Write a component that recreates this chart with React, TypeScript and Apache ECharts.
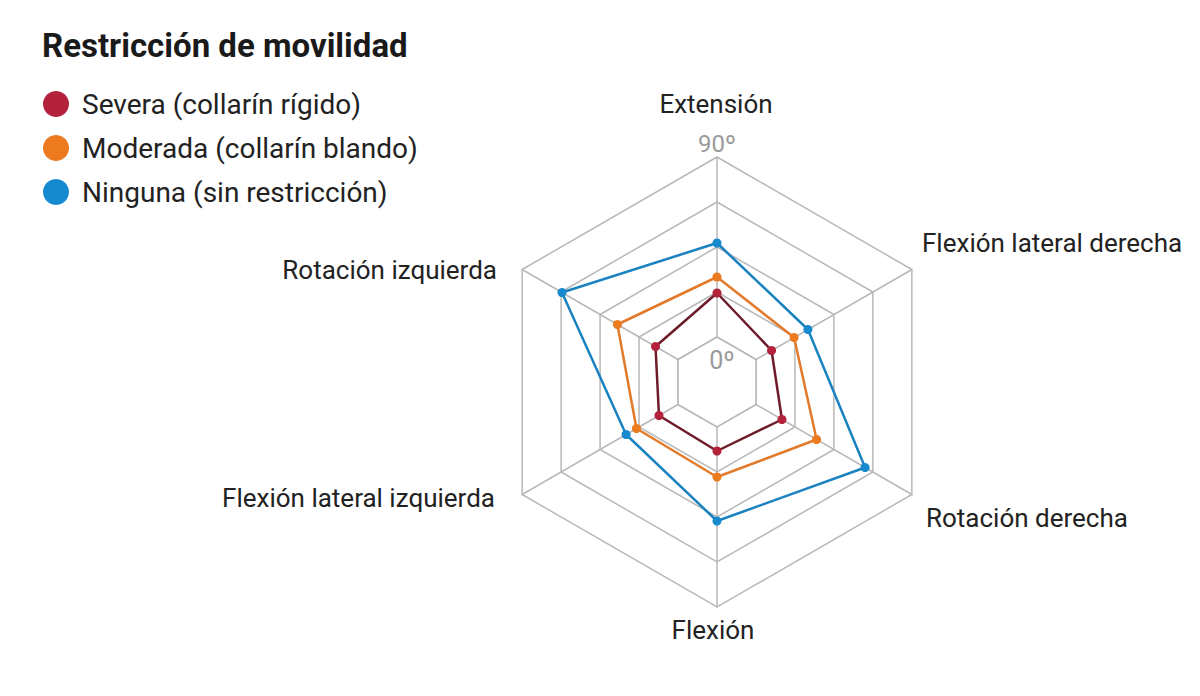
import { useEffect, useRef } from 'react'
import * as echarts from 'echarts'

// Axes in ECharts order (counter-clockwise from the top)
const axisNames = [
  'Extensión',
  'Rotación izquierda',
  'Flexión lateral izquierda',
  'Flexión',
  'Rotación derecha',
  'Flexión lateral derecha',
]

const seriesNames = [
  'Severa (collarín rígido)',
  'Moderada (collarín blando)',
  'Ninguna (sin restricción)',
]

// degrees of motion per axis
const severa = [22, 13, 11, 12, 15, 9]
const moderada = [30, 35, 24, 25, 35, 22]
const ninguna = [47, 67, 30, 47, 63, 30]

const scaleLabels = ['0º', '90º']

const DOT_COLORS = ['#b3213a', '#ec7a1f', '#1689cf']
const LINE_COLORS = ['#6e1c2a', '#e27a2a', '#1a82c0']
const GRID = '#b8b8b8'

const CX = 717
const CY = 382
const R = 225
// the innermost ring is the 0º level, the hole inside it has no spokes
const HOLE = R / 5

// label anchor for each axis name (same order as axisNames)
const NAME_POS = [
  { x: 716, y: 104, align: 'center' },
  { x: 497, y: 270, align: 'right' },
  { x: 495, y: 498, align: 'right' },
  { x: 713, y: 630, align: 'center' },
  { x: 926, y: 518, align: 'left' },
  { x: 922, y: 243, align: 'left' },
]

const FONT = 'Roboto, "Noto Sans", sans-serif'

export default function App() {
  const chartRef = useRef<HTMLDivElement | null>(null)

  useEffect(() => {
    document.body.style.margin = '0'
    if (!chartRef.current) return
    const chart = echarts.init(chartRef.current, null, { renderer: 'svg' })

    const values = [severa, moderada, ninguna]
    const holePoints = axisNames.map((_, i) => {
      const a = Math.PI / 2 + (i * 2 * Math.PI) / axisNames.length
      return [CX + HOLE * Math.cos(a), CY - HOLE * Math.sin(a)]
    })

    const option: echarts.EChartsOption = {
      animation: false,
      backgroundColor: '#ffffff',
      title: {
        text: 'Restricción de movilidad',
        left: 37,
        top: 24,
        textStyle: { fontFamily: FONT, fontSize: 33, fontWeight: 'bold', color: '#1a1a1a' },
      },
      legend: {
        orient: 'vertical',
        left: 38,
        top: 85,
        itemWidth: 26,
        itemHeight: 26,
        itemGap: 16,
        icon: 'circle',
        selectedMode: false,
        textStyle: { fontFamily: FONT, fontSize: 28, color: '#222', padding: [0, 0, 0, 8] },
        data: seriesNames.map((n, i) => ({ name: n, itemStyle: { color: DOT_COLORS[i] } })),
      },
      radar: {
        center: [CX, CY],
        radius: R,
        shape: 'polygon',
        splitNumber: 5,
        indicator: axisNames.map(n => ({ name: n, min: -22.5, max: 90 })),
        axisName: { show: false },
        axisLine: { lineStyle: { color: GRID, width: 1.5 } },
        splitLine: { lineStyle: { color: GRID, width: 1.5 } },
        splitArea: { show: false },
      },
      series: [
        {
          type: 'radar',
          symbol: 'circle',
          symbolSize: 9,
          data: values.map((v, i) => ({
            name: seriesNames[i],
            value: v,
            itemStyle: { color: DOT_COLORS[i] },
            lineStyle: { color: LINE_COLORS[i], width: 2.5 },
          })),
        },
      ],
      graphic: [
        {
          type: 'polygon',
          z: 1,
          silent: true,
          shape: { points: holePoints },
          style: { fill: '#ffffff', stroke: GRID, lineWidth: 1.5 },
        },
        ...axisNames.map((n, i) => ({
          type: 'text' as const,
          x: NAME_POS[i].x,
          y: NAME_POS[i].y,
          z: 10,
          silent: true,
          style: {
            text: n,
            fontFamily: FONT,
            fontSize: 26,
            fill: '#222',
            textAlign: NAME_POS[i].align as any,
            textVerticalAlign: 'middle' as any,
          },
        })),
        {
          type: 'text',
          x: 722,
          y: 360,
          z: 10,
          silent: true,
          style: { text: scaleLabels[0], fontFamily: FONT, fontSize: 25, fill: '#9a9a9a', textAlign: 'center', textVerticalAlign: 'middle' },
        },
        {
          type: 'text',
          x: 717,
          y: 144,
          z: 10,
          silent: true,
          style: { text: scaleLabels[1], fontFamily: FONT, fontSize: 24, fill: '#9a9a9a', textAlign: 'center', textVerticalAlign: 'middle' },
        },
      ],
    }

    chart.setOption(option)
    return () => chart.dispose()
  }, [])

  return <div ref={chartRef} style={{ width: 1200, height: 696 }} />
}
